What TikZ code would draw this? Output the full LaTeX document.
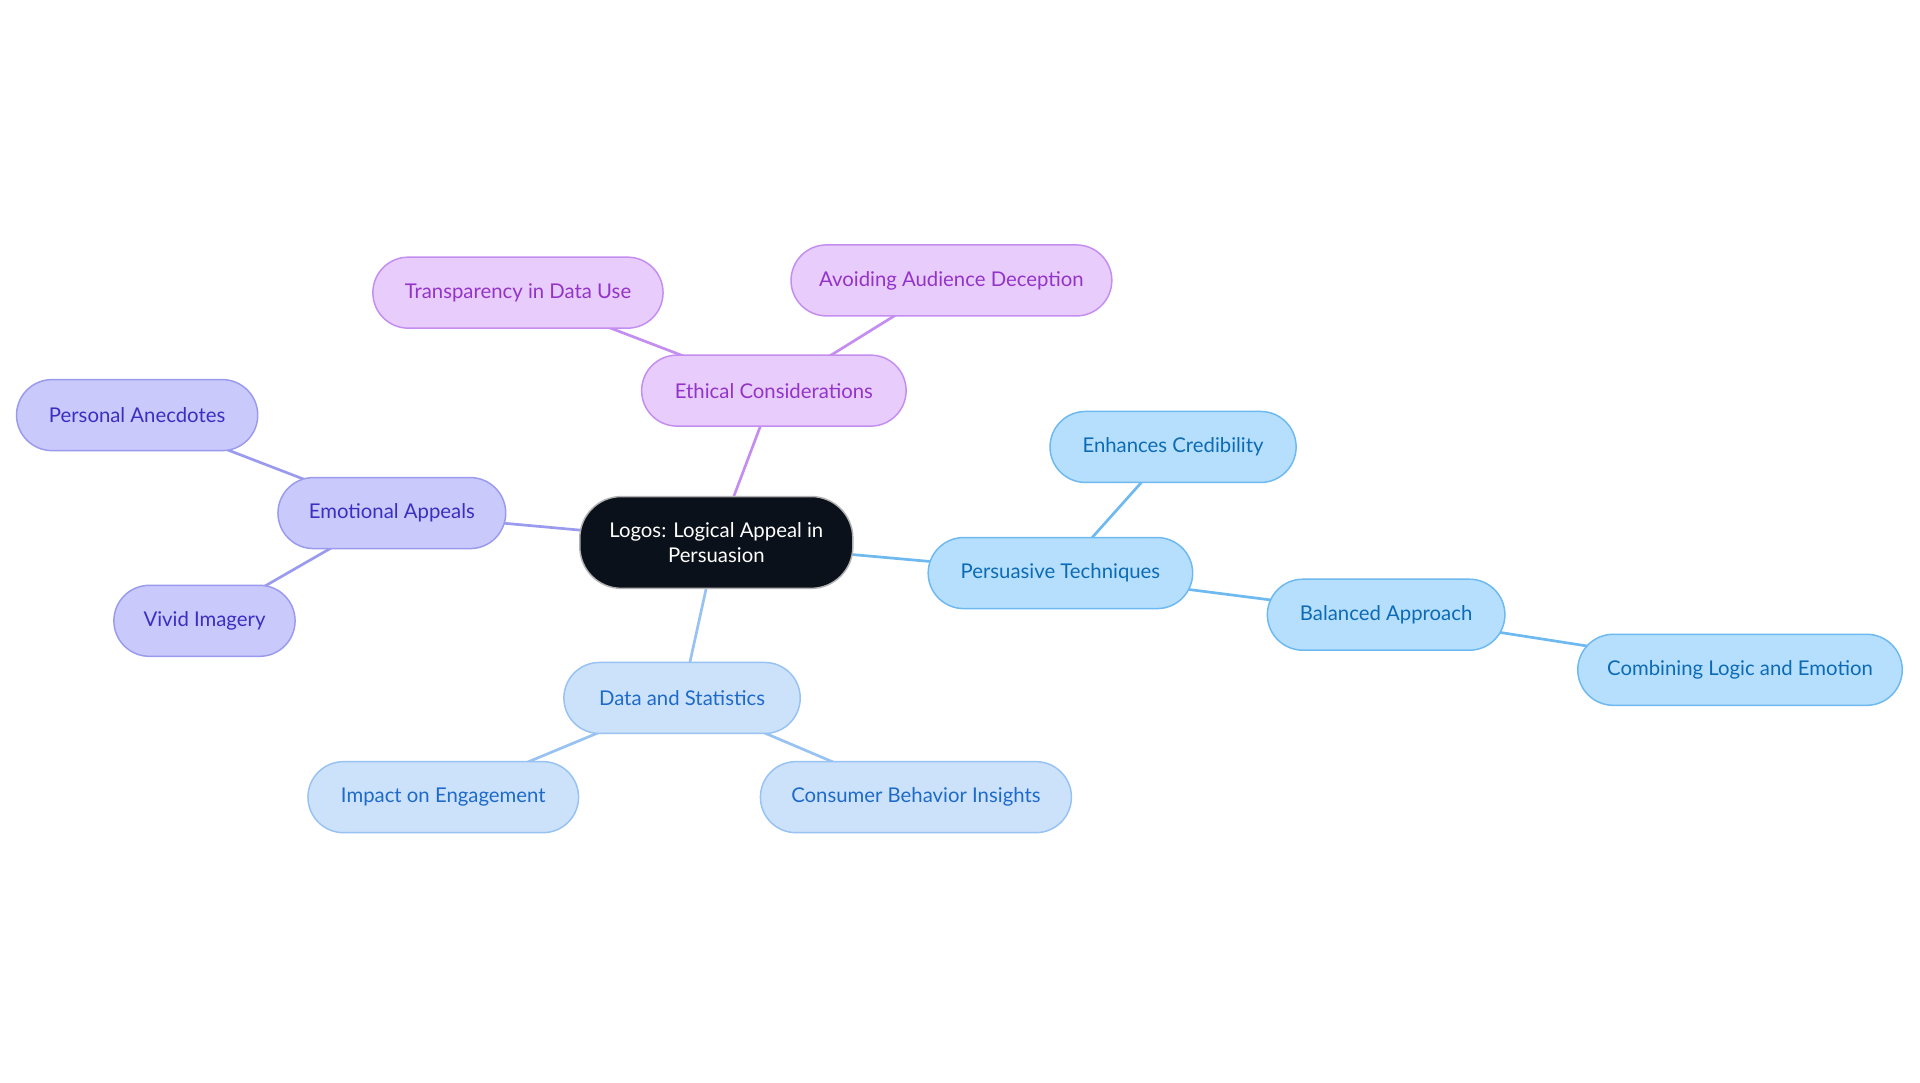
\documentclass[tikz,border=0pt]{standalone}
\usepackage{fontspec}
\setmainfont{Lato}
\begin{document}
\begin{tikzpicture}[x=0.5pt,y=-0.5pt,
 base/.style={rounded corners=14.5pt,draw,line width=0.6pt,minimum height=29pt,inner sep=0pt,font=\fontsize{8.3}{10}\selectfont,align=center},
 pu/.style={base,fill=pF,draw=pD,text=pT},
 vi/.style={base,fill=vF,draw=vD,text=vT},
 bl/.style={base,fill=bF,draw=bD,text=bT},
 sk/.style={base,fill=sF,draw=sD,text=sT},
 e/.style={line width=1.1pt}]
\definecolor{pF}{HTML}{E8CCFB}\definecolor{pD}{HTML}{C48DF0}\definecolor{pT}{HTML}{9334C9}
\definecolor{vF}{HTML}{C9C9FB}\definecolor{vD}{HTML}{9A9AEF}\definecolor{vT}{HTML}{3B2FC2}
\definecolor{bF}{HTML}{CCE2FB}\definecolor{bD}{HTML}{97C2F2}\definecolor{bT}{HTML}{1E6AC9}
\definecolor{sF}{HTML}{B5DFFC}\definecolor{sD}{HTML}{6DB9F0}\definecolor{sT}{HTML}{0D6BB5}
\useasboundingbox (0,0) rectangle (1568,884);
\node[base,fill={rgb,255:red,11;green,17;blue,26},draw=gray!60,text=white,minimum width=111.5pt,minimum height=37.5pt,rounded corners=17pt] (c) at (585,443) {Logos: Logical Appeal in\\Persuasion};
\node[pu,minimum width=108pt] (ec) at (632,319) {Ethical Considerations};
\node[pu,minimum width=118.5pt] (tr) at (423,239) {Transparency in Data Use};
\node[pu,minimum width=131pt] (av) at (777,229) {Avoiding Audience Deception};
\node[vi,minimum width=93pt] (ea) at (320,419) {Emotional Appeals};
\node[vi,minimum width=98.5pt] (pa) at (112,339) {Personal Anecdotes};
\node[vi,minimum width=74pt] (vim) at (167,507) {Vivid Imagery};
\node[bl,minimum width=96.5pt] (ds) at (557,570) {Data and Statistics};
\node[bl,minimum width=110.5pt] (ie) at (362,651) {Impact on Engagement};
\node[bl,minimum width=127pt] (cb) at (748,651) {Consumer Behavior Insights};
\node[sk,minimum width=108pt] (pt) at (866,468) {Persuasive Techniques};
\node[sk,minimum width=100.5pt] (en) at (958,365) {Enhances Credibility};
\node[sk,minimum width=97pt] (ba) at (1132,502) {Balanced Approach};
\node[sk,minimum width=132.5pt] (cl) at (1421,547) {Combining Logic and Emotion};
\begin{scope}[on background layer/.style={}]
\end{scope}
\pgfdeclarelayer{bg}\pgfsetlayers{bg,main}
\begin{pgfonlayer}{bg}
\draw[e,pD] (c.center)--(ec.center) (ec.center)--(tr.center) (ec.center)--(av.center);
\draw[e,vD] (c.center)--(ea.center) (ea.center)--(pa.center) (ea.center)--(vim.center);
\draw[e,bD] (c.center)--(ds.center) (ds.center)--(ie.center) (ds.center)--(cb.center);
\draw[e,sD] (c.center)--(pt.center) (pt.center)--(en.center) (pt.center)--(ba.center) (ba.center)--(cl.center);
\end{pgfonlayer}
\end{tikzpicture}
\end{document}
